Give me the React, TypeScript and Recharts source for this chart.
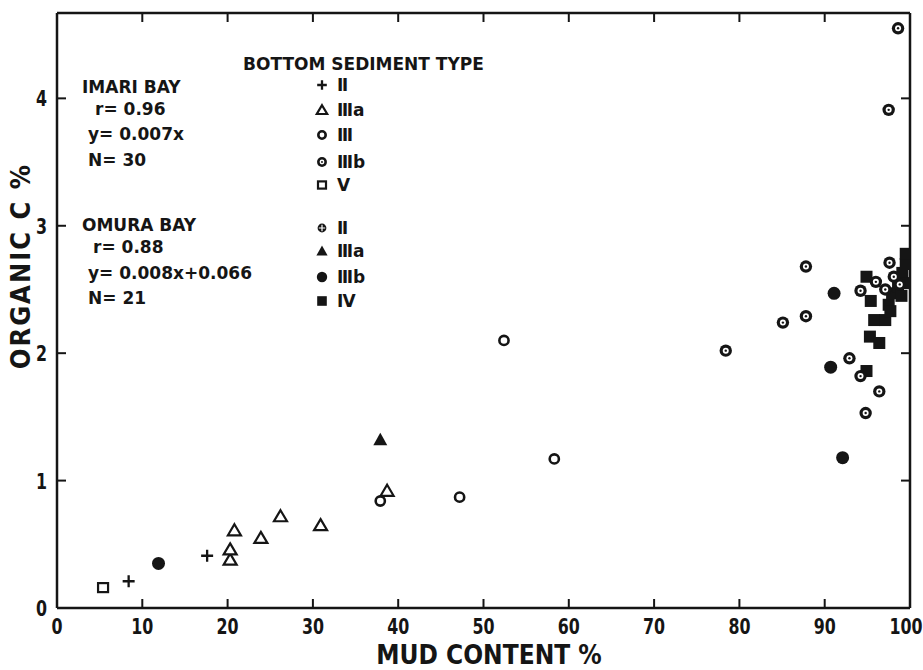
import React from "react";
import { ScatterChart, Scatter, XAxis, YAxis } from "recharts";

const INK = "#151515";
const FONT = "'DejaVu Sans', sans-serif";
const COND = "'DejaVu Sans Condensed', 'DejaVu Sans', sans-serif";
const TICK_LEN = 9;

const MUD_TICKS = [0, 10, 20, 30, 40, 50, 60, 70, 80, 90, 100];
const C_TICKS = [0, 1, 2, 3, 4];

// Imari Bay
const IMARI_II_MUD = [8.4, 17.6];
const IMARI_II_C = [0.21, 0.41];
const IMARI_IIIA_MUD = [20.3, 20.3, 20.8, 23.9, 26.2, 30.9, 38.7];
const IMARI_IIIA_C = [0.38, 0.46, 0.61, 0.55, 0.72, 0.65, 0.92];
const IMARI_III_MUD = [37.9, 47.2, 52.4, 58.3];
const IMARI_III_C = [0.84, 0.87, 2.1, 1.17];
const IMARI_IIIB_MUD = [78.4, 85.1, 87.8, 87.8, 92.9, 94.2, 94.2, 94.8, 96.0, 96.4, 97.1, 97.5, 97.6, 98.1, 98.6, 98.8];
const IMARI_IIIB_C = [2.02, 2.24, 2.29, 2.68, 1.96, 1.82, 2.49, 1.53, 2.56, 1.7, 2.5, 3.91, 2.71, 2.6, 4.55, 2.54];
const IMARI_V_MUD = [5.4];
const IMARI_V_C = [0.16];

// Omura Bay
const OMURA_IIIA_MUD = [37.9];
const OMURA_IIIA_C = [1.32];
const OMURA_IIIB_MUD = [11.9, 90.7, 91.1, 92.1];
const OMURA_IIIB_C = [0.35, 1.89, 2.47, 1.18];
const OMURA_IV_MUD = [94.9, 94.9, 95.3, 95.4, 95.8, 96.4, 97.1, 97.5, 97.7, 97.9, 98.6, 99.0, 99.1, 99.3, 99.5, 99.5];
const OMURA_IV_C = [1.86, 2.6, 2.13, 2.41, 2.26, 2.08, 2.26, 2.38, 2.33, 2.47, 2.52, 2.45, 2.63, 2.55, 2.7, 2.78];

const zip = (xs: number[], ys: number[]) => xs.map((x, i) => ({ x, y: ys[i] }));

type Kind =
  | "plus"
  | "triOpen"
  | "circleOpen"
  | "bullseye"
  | "squareOpen"
  | "circlePlus"
  | "triFilled"
  | "circleFilled"
  | "squareFilled";

function Marker({ kind, cx, cy, s = 1 }: { kind: Kind; cx: number; cy: number; s?: number }) {
  switch (kind) {
    case "plus":
      return (
        <path
          d={`M${cx - 6 * s} ${cy}H${cx + 6 * s}M${cx} ${cy - 6 * s}V${cy + 6 * s}`}
          stroke={INK}
          strokeWidth={2.3}
          fill="none"
        />
      );
    case "triOpen":
      return (
        <path
          d={`M${cx} ${cy - 6 * s}L${cx + 6.5 * s} ${cy + 5 * s}L${cx - 6.5 * s} ${cy + 5 * s}Z`}
          stroke={INK}
          strokeWidth={2.2}
          fill="#fff"
        />
      );
    case "circleOpen":
      return <circle cx={cx} cy={cy} r={4.6 * s} stroke={INK} strokeWidth={2.6} fill="#fff" />;
    case "bullseye":
      return (
        <g>
          <circle cx={cx} cy={cy} r={6.2 * s} fill={INK} />
          <circle cx={cx} cy={cy} r={3 * s} fill="#fff" />
          <circle cx={cx} cy={cy} r={1.2 * s} fill={INK} />
        </g>
      );
    case "squareOpen":
      return (
        <rect x={cx - 5 * s} y={cy - 4.5 * s} width={10 * s} height={9 * s} stroke={INK} strokeWidth={2.2} fill="#fff" />
      );
    case "circlePlus":
      return (
        <g>
          <circle cx={cx} cy={cy} r={5.5 * s} fill={INK} />
          <path
            d={`M${cx - 4 * s} ${cy}H${cx + 4 * s}M${cx} ${cy - 4 * s}V${cy + 4 * s}`}
            stroke="#fff"
            strokeWidth={1.2}
          />
        </g>
      );
    case "triFilled":
      return <path d={`M${cx} ${cy - 7 * s}L${cx + 7 * s} ${cy + 5.5 * s}L${cx - 7 * s} ${cy + 5.5 * s}Z`} fill={INK} />;
    case "circleFilled":
      return <circle cx={cx} cy={cy} r={6.5 * s} fill={INK} />;
    case "squareFilled":
      return <rect x={cx - 6 * s} y={cy - 6 * s} width={12 * s} height={12 * s} fill={INK} />;
  }
  return null;
}

const shapeOf = (kind: Kind) => (p: any) => <Marker kind={kind} cx={p.cx} cy={p.cy} />;

// inward tick marks + condensed labels
const BottomTick = (p: any) => {
  const shift = p.payload.value === 100 ? -4 : 0;
  return (
    <g>
      <line x1={p.x} x2={p.x} y1={p.y} y2={p.y - TICK_LEN} stroke={INK} strokeWidth={2} />
      <g transform={`translate(${p.x + shift} ${p.y + 26}) scale(0.8 1)`}>
        <text textAnchor="middle" fontFamily={COND} fontWeight={700} fontSize={22} fill={INK}>
          {p.payload.value}
        </text>
      </g>
    </g>
  );
};

const LeftTick = (p: any) => (
  <g>
    <line x1={p.x} x2={p.x + TICK_LEN} y1={p.y} y2={p.y} stroke={INK} strokeWidth={2} />
    <g transform={`translate(${p.x - 10} ${p.y + 8}) scale(0.8 1)`}>
      <text textAnchor="end" fontFamily={COND} fontWeight={700} fontSize={22} fill={INK}>
        {p.payload.value}
      </text>
    </g>
  </g>
);

const TopTick = (p: any) => (
  <line x1={p.x} x2={p.x} y1={p.y} y2={p.y + TICK_LEN} stroke={INK} strokeWidth={2} />
);

const RightTick = (p: any) => (
  <line x1={p.x} x2={p.x - TICK_LEN} y1={p.y} y2={p.y} stroke={INK} strokeWidth={2} />
);

const LEGEND_ROWS: { kind: Kind; label: string; y: number }[] = [
  { kind: "plus", label: "Ⅱ", y: 85 },
  { kind: "triOpen", label: "Ⅲa", y: 110 },
  { kind: "circleOpen", label: "Ⅲ", y: 135 },
  { kind: "bullseye", label: "Ⅲb", y: 162 },
  { kind: "squareOpen", label: "Ⅴ", y: 185 },
  { kind: "circlePlus", label: "Ⅱ", y: 228 },
  { kind: "triFilled", label: "Ⅲa", y: 251 },
  { kind: "circleFilled", label: "Ⅲb", y: 277 },
  { kind: "squareFilled", label: "Ⅳ", y: 301 },
];

const STATS = [
  { text: "IMARI BAY", x: 82, y: 93 },
  { text: "r= 0.96", x: 95, y: 115 },
  { text: "y= 0.007x", x: 88, y: 140 },
  { text: "N= 30", x: 88, y: 166 },
  { text: "OMURA BAY", x: 82, y: 231 },
  { text: "r= 0.88", x: 93, y: 253 },
  { text: "y= 0.008x+0.066", x: 88, y: 279 },
  { text: "N= 21", x: 88, y: 304 },
];

function Overlay() {
  return (
    <svg width={923} height={670} style={{ position: "absolute", left: 0, top: 0, pointerEvents: "none" }}>
      <text x={243} y={70} fontFamily={FONT} fontWeight={700} fontSize={17} fill={INK}>
        BOTTOM SEDIMENT TYPE
      </text>
      {STATS.map((t) => (
        <text key={t.text} x={t.x} y={t.y} fontFamily={FONT} fontWeight={700} fontSize={17} fill={INK}>
          {t.text}
        </text>
      ))}
      {LEGEND_ROWS.map((r, i) => (
        <g key={i}>
          <Marker kind={r.kind} cx={322} cy={r.y} s={0.8} />
          <text x={337} y={r.y + 6} fontFamily={FONT} fontWeight={700} fontSize={17} fill={INK}>
            {r.label}
          </text>
        </g>
      ))}
      <text x={489} y={664} textAnchor="middle" fontFamily={COND} fontWeight={700} fontSize={26} fill={INK}>
        MUD CONTENT %
      </text>
      <text
        x={0}
        y={0}
        transform="translate(30 266) rotate(-90)"
        textAnchor="middle"
        fontFamily={COND}
        fontWeight={700}
        fontSize={27}
        letterSpacing={2}
        fill={INK}
      >
        ORGANIC C %
      </text>
    </svg>
  );
}

export default function App() {
  const axisLine = { stroke: INK, strokeWidth: 2.5 };
  return (
    <div style={{ position: "absolute", left: 0, top: 0, width: 923, height: 670, background: "#fff" }}>
      <ScatterChart width={923} height={670} margin={{ top: 12, right: 12, bottom: 0, left: 0 }}>
        <XAxis
          type="number"
          dataKey="x"
          domain={[0, 100]}
          ticks={MUD_TICKS}
          interval={0}
          height={62}
          tickSize={0}
          tickMargin={0}
          axisLine={axisLine}
          tickLine={false}
          tick={<BottomTick />}
          allowDataOverflow
        />
        <XAxis
          xAxisId="top"
          orientation="top"
          type="number"
          dataKey="x"
          domain={[0, 100]}
          ticks={MUD_TICKS}
          interval={0}
          height={1}
          tickSize={0}
          tickMargin={0}
          axisLine={axisLine}
          tickLine={false}
          tick={<TopTick />}
          allowDataOverflow
        />
        <YAxis
          type="number"
          dataKey="y"
          domain={[0, 4.67]}
          ticks={C_TICKS}
          interval={0}
          width={57}
          tickSize={0}
          tickMargin={0}
          axisLine={axisLine}
          tickLine={false}
          tick={<LeftTick />}
          allowDataOverflow
        />
        <YAxis
          yAxisId="right"
          orientation="right"
          type="number"
          dataKey="y"
          domain={[0, 4.67]}
          ticks={C_TICKS}
          interval={0}
          width={1}
          tickSize={0}
          tickMargin={0}
          axisLine={axisLine}
          tickLine={false}
          tick={<RightTick />}
          allowDataOverflow
        />
        <Scatter xAxisId="top" yAxisId="right" data={[]} isAnimationActive={false} />
        <Scatter data={zip(OMURA_IV_MUD, OMURA_IV_C)} shape={shapeOf("squareFilled")} isAnimationActive={false} />
        <Scatter data={zip(OMURA_IIIB_MUD, OMURA_IIIB_C)} shape={shapeOf("circleFilled")} isAnimationActive={false} />
        <Scatter data={zip(OMURA_IIIA_MUD, OMURA_IIIA_C)} shape={shapeOf("triFilled")} isAnimationActive={false} />
        <Scatter data={zip(IMARI_V_MUD, IMARI_V_C)} shape={shapeOf("squareOpen")} isAnimationActive={false} />
        <Scatter data={zip(IMARI_II_MUD, IMARI_II_C)} shape={shapeOf("plus")} isAnimationActive={false} />
        <Scatter data={zip(IMARI_IIIA_MUD, IMARI_IIIA_C)} shape={shapeOf("triOpen")} isAnimationActive={false} />
        <Scatter data={zip(IMARI_III_MUD, IMARI_III_C)} shape={shapeOf("circleOpen")} isAnimationActive={false} />
        <Scatter data={zip(IMARI_IIIB_MUD, IMARI_IIIB_C)} shape={shapeOf("bullseye")} isAnimationActive={false} />
      </ScatterChart>
      <Overlay />
    </div>
  );
}
